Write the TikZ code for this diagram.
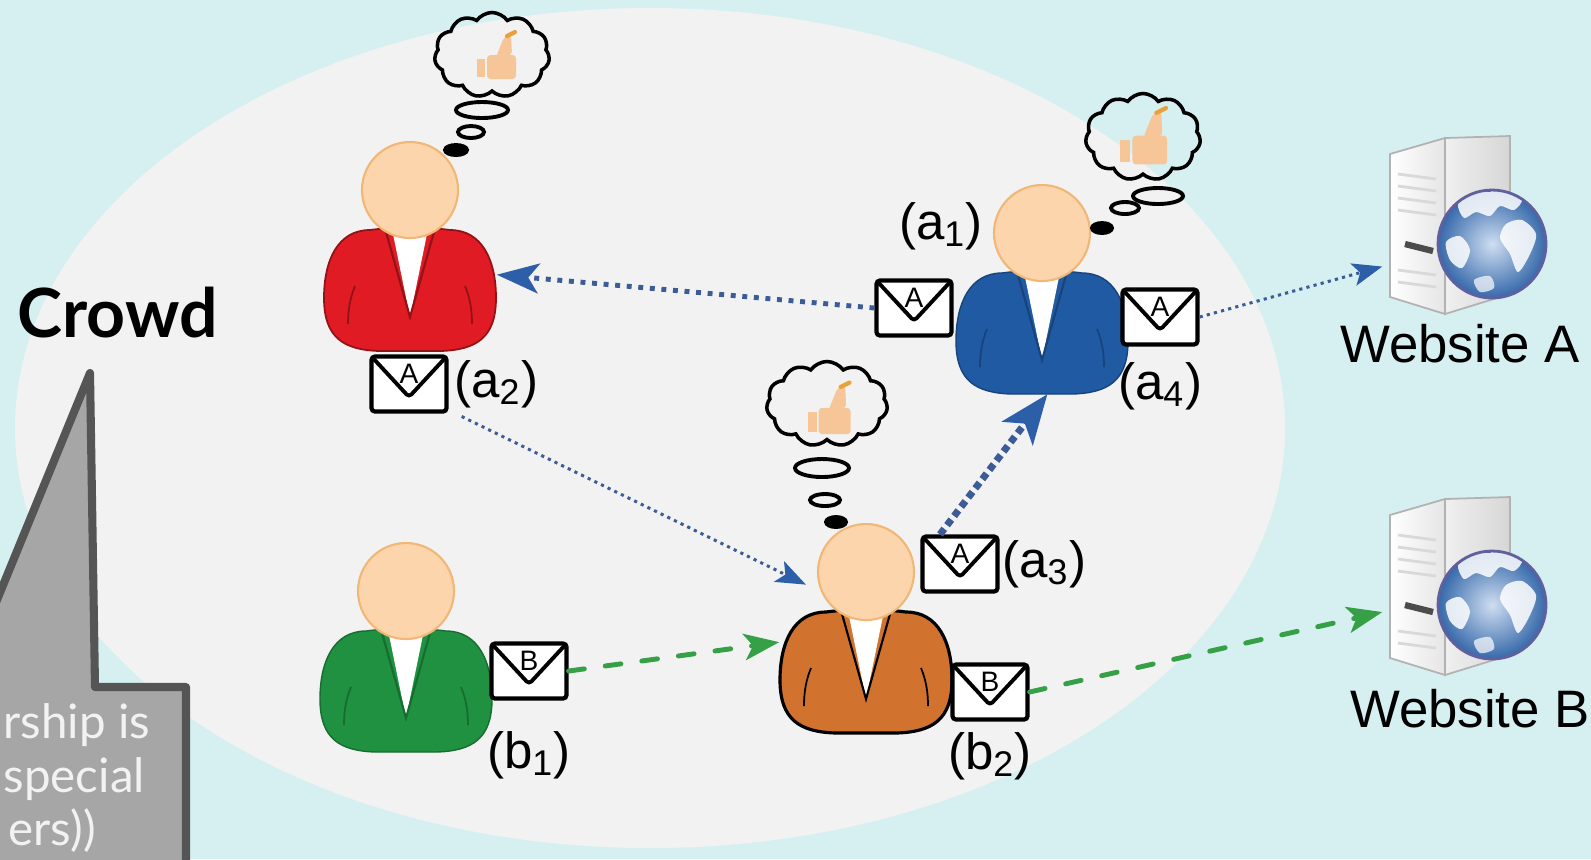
\documentclass[tikz,border=0pt]{standalone}
\usepackage{fontspec}
\setmainfont{Liberation Sans}
\newfontfamily\latofont{Lato}
\usetikzlibrary{positioning, arrows.meta, shapes.symbols}

\definecolor{bgcyan}{HTML}{D6F0F1}
\definecolor{crowdgray}{HTML}{F2F2F2}
\definecolor{skin}{HTML}{FDD5AD}
\definecolor{skinline}{HTML}{F1B777}
\definecolor{thumbskin}{HTML}{F6C699}
\definecolor{nail}{HTML}{E9A23B}
\definecolor{shirtred}{HTML}{E01B24}
\definecolor{shirtblue}{HTML}{1F5AA3}
\definecolor{shirtgreen}{HTML}{1F9140}
\definecolor{shirtorange}{HTML}{D1722F}
\definecolor{msgblue}{HTML}{2C5FA8}
\definecolor{dotblue}{HTML}{3B5C96}
\definecolor{msggreen}{HTML}{36A047}
\definecolor{calloutfill}{HTML}{A6A6A6}
\definecolor{calloutline}{HTML}{555555}
\definecolor{globeblue}{HTML}{3F7BC8}

\tikzset{
  pics/person/.style n args={3}{code={
    % body, collar and head
    \path[fill=#1, draw=#2, line width=#3] (-40,40) .. controls (-72,40) and (-86,70) .. (-86,108)
      .. controls (-86,148) and (-66,160) .. (-30,161) -- (30,161)
      .. controls (66,160) and (86,148) .. (86,108) .. controls (86,70) and (72,40) .. (40,40)
      .. controls (20,37) and (-20,37) .. (-40,40) -- cycle;
    \fill[white] (-17,44) -- (17,44) -- (0,127) -- cycle;
    \draw[#2, line width=0.6pt] (-24,42) -- (0,127) -- (24,42);
    \draw[#2, line width=0.5pt] (-55,96) .. controls (-60,108) and (-62,120) .. (-62,134);
    \draw[#2, line width=0.5pt] (55,96) .. controls (60,108) and (62,120) .. (62,134);
    \draw[fill=skin, draw=skinline, line width=0.6pt] (0,0) circle (48);
    \node[inner sep=0pt, minimum width=1.72cm, minimum height=1.21cm] (-body) at (0,100) {};
    \node[circle, inner sep=0pt, minimum size=0.96cm] (-head) at (0,0) {};
  }},
  pics/thumb/.style={code={
    \fill[thumbskin] (-23,2) rectangle (-15,20);
    \fill[thumbskin, rounded corners=1pt] (-13,-2) rectangle (16,22);
    \fill[thumbskin, rounded corners=1pt] (-4,0) -- (4,-20) -- (11,-22) -- (12,-2) -- cycle;
    \draw[nail, line width=1.2pt, line cap=round] (7,-21) -- (15,-25);
  }},
  pics/server/.style={code={
    % tower
    \draw[gray!60, line width=0.5pt, left color=white, right color=gray!20]
      (-60,-70) -- (-5,-86) -- (-5,90) -- (-60,73) -- cycle;
    \draw[gray!60, line width=0.5pt, left color=gray!12, right color=gray!32]
      (-5,-86) -- (60,-88) -- (60,70) -- (-5,90) -- cycle;
    \foreach \y in {-50,-38,-26,-14} \draw[gray!30, line width=0.8pt] (-52,\y) -- (-14,\y+5);
    \foreach \y in {46,58} \draw[gray!30, line width=0.8pt] (-52,\y) -- (-14,\y+5);
    \draw[gray!60!black, line width=1.8pt] (-45,20) -- (-17,27);
    % globe
    \shade[inner color=globeblue!25!white, outer color=globeblue!85!black] (42,20) circle (54);
    \begin{scope}
      \clip (42,20) circle (54);
      \fill[white, opacity=0.85] plot[smooth cycle] coordinates {(8,-20) (20,-34) (40,-32) (52,-40) (72,-26) (64,-14) (50,-18) (40,-8) (26,-12) (14,-6)};
      \fill[white, opacity=0.85] plot[smooth cycle] coordinates {(56,0) (72,-4) (86,10) (80,30) (68,48) (60,30) (50,14)};
      \fill[white, opacity=0.85] plot[smooth cycle] coordinates {(-4,18) (10,12) (20,26) (12,44) (0,36)};
      \fill[white, opacity=0.7] plot[smooth cycle] coordinates {(24,56) (40,52) (44,64) (30,68)};
    \end{scope}
    \draw[blue!25!gray, line width=0.8pt] (42,20) circle (54);
    \node[inner sep=0pt, minimum width=1.2cm, minimum height=1.79cm] (-box) at (0,0) {};
  }},
  thought/.style={cloud, cloud puffs=11, cloud puff arc=110, draw, line width=1pt,
    inner sep=0pt, minimum width=1.15cm, minimum height=0.85cm},
  bubble/.style={draw=black, line width=1.1pt},
  mail/.style={draw, fill=white, line width=1.2pt, rounded corners=1pt, inner sep=0pt,
    minimum width=0.75cm, minimum height=0.55cm,
    path picture={
      \draw[line width=1.1pt, line join=round] (path picture bounding box.north west)
        -- ([yshift=-0.13cm]path picture bounding box.center) -- (path picture bounding box.north east);
      \node[font=\fontsize{8}{9}\selectfont, inner sep=0pt] at ([yshift=0.1cm]path picture bounding box.center) {#1};
    }},
  lab/.style={font=\fontsize{14.5}{17}\selectfont, inner sep=0pt},
  site/.style={font=\fontsize{15}{18}\selectfont, inner sep=0pt},
  note/.style={font=\latofont\fontsize{13.5}{16}\selectfont, text=crowdgray, inner sep=0pt},
  adot/.style={dotblue, line width=1.4pt, dash pattern=on 1.4pt off 1.9pt,
    -{Stealth[length=12pt, width=8.5pt, inset=3pt, msgblue]}},
  adotthin/.style={dotblue, line width=0.85pt, dash pattern=on 0.9pt off 1.2pt,
    -{Stealth[length=8.5pt, width=6.5pt, inset=2pt, msgblue]}},
  adotbig/.style={dotblue, line width=2pt, dash pattern=on 2pt off 1.3pt,
    -{Stealth[length=14pt, width=11pt, inset=3.5pt, msgblue]}},
  gdash/.style={msggreen, line width=1.4pt, dash pattern=on 4.5pt off 6pt, line cap=round,
    -{Stealth[length=10pt, width=7.5pt, inset=2.5pt]}}
}

\begin{document}
\begin{tikzpicture}[x=0.01cm, y=-0.01cm]
  \useasboundingbox (0,0) rectangle (1591,859);
  \clip (0,0) rectangle (1591,859);
  \fill[bgcyan] (0,0) rectangle (1591,859);
  \fill[crowdgray] (650,428) ellipse [x radius=635, y radius=420];

  % callout in the lower left corner
  \draw[fill=calloutfill, draw=calloutline, line width=2.3pt, line join=round]
    (90,373) -- (95,687) -- (186,687) -- (186,900) -- (-126,900) -- cycle;
  \node[note, anchor=base west] (note1) at (3,738) {rship is};
  \node[note, anchor=base west] (note2) at (3,792) {special};
  \node[note, anchor=base west] (note3) at (8,845) {ers))};

  \node[font=\latofont\bfseries\fontsize{19.3}{23}\selectfont, anchor=base west, inner sep=0pt] (crowd) at (17,337) {Crowd};

  % people
  \pic (red) at (410,190) {person={shirtred}{shirtred!65!black}{0.5pt}};
  \pic (blue) at (1042,233) {person={shirtblue}{shirtblue!75!black}{0.4pt}};
  \pic (green) at (406,591) {person={shirtgreen}{shirtgreen!75!black}{0.4pt}};
  \pic (orange) at (866,572) {person={shirtorange}{black}{0.9pt}};

  % thoughts
  \node[thought] (th-red) at (492,55) {};
  \pic at (500,57) {thumb};
  \draw[bubble] (482,110) ellipse [x radius=26, y radius=8];
  \draw[bubble] (471,132) ellipse [x radius=13, y radius=6];
  \draw[bubble, fill=black] (456,150) ellipse [x radius=11, y radius=5];

  \node[thought, minimum height=0.87cm] (th-blue) at (1143,137) {};
  \pic[scale=1.2] at (1148,138) {thumb};
  \draw[bubble] (1158,196) ellipse [x radius=25, y radius=8];
  \draw[bubble] (1125,208) ellipse [x radius=14, y radius=6];
  \draw[bubble, fill=black] (1102,228) ellipse [x radius=10, y radius=5];

  \node[thought, minimum width=1.21cm] (th-orange) at (827,404) {};
  \pic[scale=1.1] at (833,410) {thumb};
  \draw[bubble] (822,468) ellipse [x radius=27, y radius=9];
  \draw[bubble] (825,500) ellipse [x radius=15, y radius=6];
  \draw[bubble, fill=black] (836,522) ellipse [x radius=10, y radius=5];

  % messages
  \node[mail=A] (env-a2) at (409,384) {};
  \node[mail=A] (env-a1) at (914,308) {};
  \node[mail=A] (env-a4) at (1160,317) {};
  \node[mail=A] (env-a3) at (960,564) {};
  \node[mail=B] (env-b2) at (990,692) {};
  \node[mail=B] (env-b1) at (529,671) {};

  \node[lab] (lab-a1) at (941,226) {(a\textsubscript{1})};
  \node[lab, right=0.05cm of env-a2] (lab-a2) {(a\textsubscript{2})};
  \node[lab, right=0.02cm of env-a3] (lab-a3) {(a\textsubscript{3})};
  \node[lab, below=0.15cm of env-a4] (lab-a4) {(a\textsubscript{4})};
  \node[lab, below=0.3cm of env-b1] (lab-b1) {(b\textsubscript{1})};
  \node[lab, below=0.1cm of env-b2] (lab-b2) {(b\textsubscript{2})};

  % websites
  \pic (srvA) at (1450,224) {server};
  \pic (srvB) at (1450,585) {server};
  \node[site, anchor=base] (site-a) at (1460,362) {Website A};
  \node[site, anchor=base] (site-b) at (1470,727) {Website B};

  % forwarding
  \draw[adot] (env-a1.west) -- (red-body.10);
  \draw[adotthin] (env-a4.east) -- ([xshift=-0.07cm]srvA-box.215);
  \draw[adotthin] ([shift={(0.08cm,-0.08cm)}]lab-a2.south west) -- ([xshift=-0.13cm]orange-head.195);
  \draw[adotbig] ([xshift=-0.2cm]env-a3.north) -- (blue-body.-85);
  \draw[gdash] (env-b1.east) -- (orange-body.161);
  \draw[gdash] (env-b2.east) -- ([xshift=-0.07cm]srvB-box.204);
\end{tikzpicture}
\end{document}
